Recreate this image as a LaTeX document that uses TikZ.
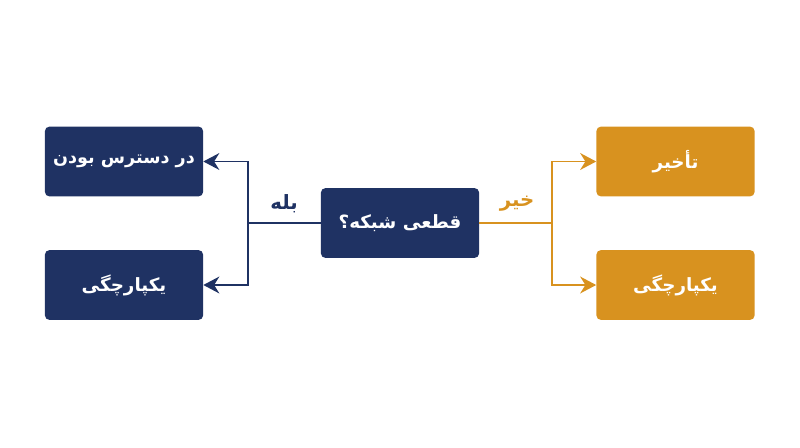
\documentclass[tikz,border=0pt]{standalone}
\usepackage{fontspec}
\newfontfamily\arabicfont[Script=Arabic]{DejaVu Sans}
\TeXXeTstate=1
\usetikzlibrary{arrows.meta,positioning}
\definecolor{navy}{HTML}{1F3263}
\definecolor{amber}{HTML}{D8921F}
\newcommand{\fa}[1]{\beginR #1\endR}

\begin{document}
\begin{tikzpicture}[x=0.025cm, y=-0.025cm,
    box/.style={rounded corners=3pt, minimum width=3.95cm, minimum height=1.74cm,
      inner sep=0pt, text=white, font=\arabicfont\bfseries\fontsize{13}{15}\selectfont},
    navybox/.style={box, fill=navy},
    amberbox/.style={box, fill=amber},
    link/.style={line width=1.4pt},
    tip/.style={-{Stealth[length=0.4cm, width=0.42cm, inset=0.13cm]}},
    lbl/.style={font=\arabicfont\bfseries\fontsize{14}{16}\selectfont}]
		%%%%% START %%%%%
		\useasboundingbox (0, 0) rectangle (800, 447);
		
		\node[navybox] (net) at (400, 223) {\fa{قطعی شبکه؟}};
		
		\node[navybox, font=\arabicfont\bfseries\fontsize{12.5}{15}\selectfont] (avail) at (124, 161.5) {\fa{در دسترس بودن}};
		\node[navybox] (integL) at (124, 285) {\fa{یکپارچگی}};
		
		\node[amberbox] (delay) at (675.5, 161.5) {\fa{تأخیر}};
		\node[amberbox] (integR) at (675.5, 285) {\fa{یکپارچگی}};
		
		\coordinate (jL) at (248, 223);
		\coordinate (jR) at (552, 223);
		
		\draw[link, navy] (net.west) -- (jL);
		\draw[link, tip, navy] (jL) |- (avail.east);
		\draw[link, tip, navy] (jL) |- (integL.east);
		
		\draw[link, amber] (net.east) -- (jR);
		\draw[link, tip, amber] (jR) |- (delay.west);
		\draw[link, tip, amber] (jR) |- (integR.west);
		
		\node[lbl, text=navy] (yes) at (284, 204) {\fa{بله}};
		\node[lbl, text=amber] (no) at (517, 204) {\fa{خیر}};
		%%%%% END %%%%%
\end{tikzpicture}
\end{document}
